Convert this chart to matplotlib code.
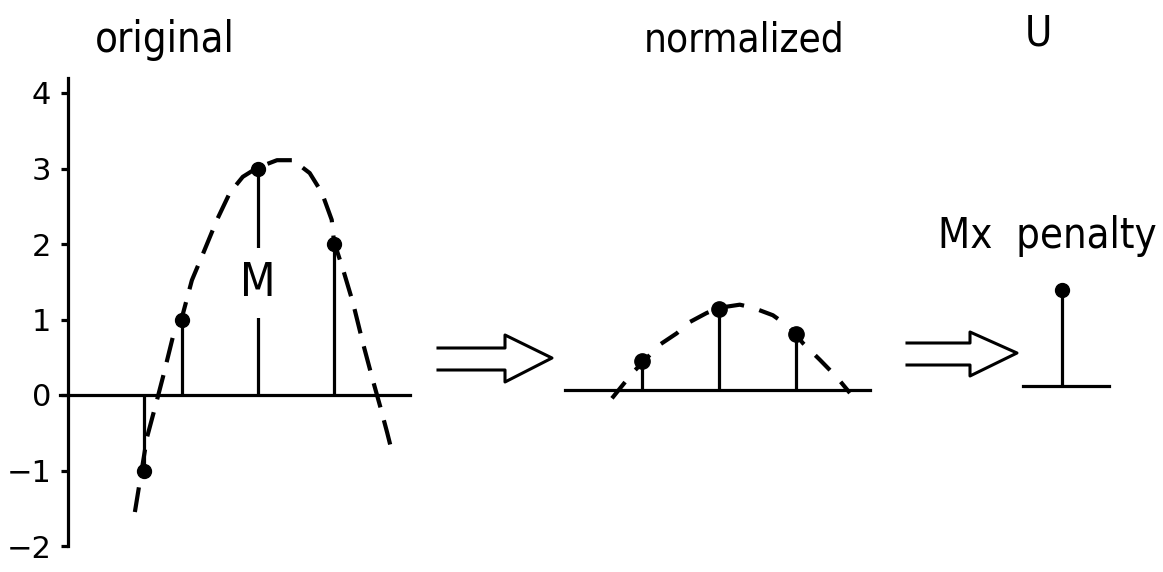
import matplotlib.pyplot as plt
from matplotlib.lines import Line2D

W, H = 1163, 572

# original samples (left panel)
orig_x = [1.5, 2, 3, 4]
orig_y = [-1, 1, 3, 2]
# dashed fitted curve through the original samples
orig_fit_x = [1.38, 1.54, 1.67, 1.75, 1.88, 2.0, 2.13, 2.28, 2.46, 2.63, 2.80, 2.99,
              3.25, 3.46, 3.68, 3.84, 3.97, 4.0, 4.12, 4.25, 4.38, 4.51, 4.61, 4.70, 4.78]
orig_fit_y = [-1.55, -0.56, -0.07, 0.24, 0.77, 1.03, 1.52, 1.88, 2.32, 2.68, 2.89, 3.01,
              3.11, 3.11, 2.94, 2.68, 2.32, 2.03, 1.66, 1.22, 0.69, 0.20, -0.16, -0.50, -0.82]
y_ticks = [-2, -1, 0, 1, 2, 3, 4]

# normalized samples (middle panel)
norm_x = [1, 2, 3]
norm_y = [0.39, 1.07, 0.74]
norm_fit_x = [0.61, 0.88, 1.23, 1.45, 1.62, 1.84, 2.01, 2.27, 2.44, 2.70, 2.92, 3.09,
              3.31, 3.53, 3.70]
norm_fit_y = [-0.11, 0.23, 0.60, 0.75, 0.90, 1.02, 1.09, 1.13, 1.09, 0.99, 0.83, 0.62,
              0.40, 0.17, -0.04]

# resulting penalty value (right panel)
pen_x = [0]
pen_y = [1.27]

FONT = dict(family='DejaVu Sans', fontstretch='condensed', color='black')
LW = 2.3

fig = plt.figure(figsize=(W / 100, H / 100), dpi=100)


def panel(x0, x1, y0, y1, xref, xref_px, yref_px, sx=76.0, sy=75.5):
    """Axes placed by pixel box, with a fixed pixel-per-unit scale."""
    ax = fig.add_axes([x0 / W, 1 - y1 / H, (x1 - x0) / W, (y1 - y0) / H])
    ax.set_xlim(xref + (x0 - xref_px) / sx, xref + (x1 - xref_px) / sx)
    ax.set_ylim((yref_px - y1) / sy, (yref_px - y0) / sy)
    ax.patch.set_alpha(0)
    return ax


def hollow_arrow(x0, xb, top, bot, htop, hbot, tip):
    xs = [x0, xb, xb, tip[0], xb, xb, x0]
    ys = [top, top, htop, tip[1], hbot, bot, bot]
    fig.add_artist(Line2D([x / W for x in xs], [1 - y / H for y in ys],
                          transform=fig.transFigure, color='black', lw=2.2,
                          solid_joinstyle='round'))


# left panel: original signal
ax = panel(50, 425, 70, 560, 2, 182, 395)
for s in ['top', 'right', 'bottom']:
    ax.spines[s].set_visible(False)
ax.spines['left'].set_position(('data', 0.5))
ax.spines['left'].set_bounds(-2, 4.2)
ax.spines['left'].set_linewidth(LW)
ax.set_xticks([])
ax.set_yticks(y_ticks)
ax.set_yticklabels([str(t).replace('-', '\u2212') for t in y_ticks], fontsize=22,
                   family='DejaVu Sans')
ax.tick_params(axis='y', direction='out', length=5, width=LW, pad=7)
ax.plot([0.395, 5.0], [0, 0], color='black', lw=LW)
ax.vlines(orig_x, 0, orig_y, color='black', lw=LW)
ax.plot(orig_x, orig_y, 'o', color='black', ms=10)
ax.plot(orig_fit_x, orig_fit_y, color='black', lw=3.0, dashes=(6.0, 3.2))
ax.text(3, 1.48, 'M', ha='center', va='center', fontsize=33,
        bbox=dict(facecolor='white', edgecolor='none', pad=9), **FONT)

# middle panel: normalized signal
ax2 = panel(560, 880, 280, 420, 1, 642, 390, sx=77.0)
ax2.axis('off')
ax2.plot([0.0, 3.96], [0, 0], color='black', lw=LW)
ax2.vlines(norm_x, 0, norm_y, color='black', lw=LW)
ax2.plot(norm_x, norm_y, 'o', color='black', ms=11)
ax2.plot(norm_fit_x, norm_fit_y, color='black', lw=3.0, dashes=(5.0, 3.8))

# right panel: penalty
ax3 = panel(1015, 1120, 270, 400, 0, 1062, 386, sx=77.0)
ax3.axis('off')
ax3.plot([-0.51, 0.61], [0, 0], color='black', lw=LW)
ax3.vlines(pen_x, 0, pen_y, color='black', lw=LW)
ax3.plot(pen_x, pen_y, 'o', color='black', ms=10)

hollow_arrow(438, 505, 348, 370, 335, 382, (552, 358))
hollow_arrow(907, 970, 343, 365, 332, 376, (1017, 353))

fig.text(165 / W, 1 - 52 / H, 'original', ha='center', va='baseline', fontsize=30, **FONT)
fig.text(744 / W, 1 - 51 / H, 'normalized', ha='center', va='baseline', fontsize=29, **FONT)
fig.text(1038 / W, 1 - 45 / H, 'U', ha='center', va='baseline', fontsize=30, **FONT)
fig.text(1047 / W, 1 - 248 / H, 'Mx  penalty', ha='center', va='baseline', fontsize=30, **FONT)

fig.savefig('out.png', dpi=100, facecolor='white')
